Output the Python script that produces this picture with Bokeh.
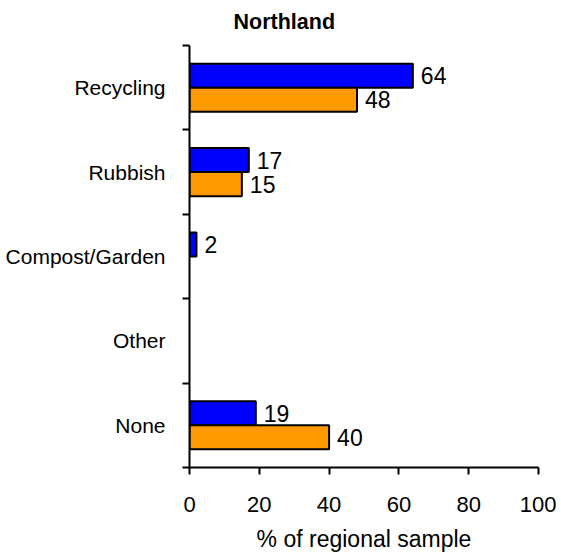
from bokeh.plotting import figure
from bokeh.models import ColumnDataSource, FixedTicker, LabelSet, Range1d
from bokeh.transform import dodge
from bokeh.embed import file_html
from bokeh.resources import INLINE
from bokeh.core.properties import value

categories = ["Recycling", "Rubbish", "Compost/Garden", "Other", "None"]
series_blue = [64, 17, 2, None, 19]
series_orange = [48, 15, None, None, 40]
x_ticks = [0, 20, 40, 60, 80, 100]

FONT = "Liberation Sans"
n = len(categories)
centers = [n - i - 0.5 for i in range(n)]
bounds = list(range(0, n + 1))


def make_source(vals):
    ys, xs, txt = [], [], []
    for c, v in zip(centers, vals):
        if v is not None:
            ys.append(c)
            xs.append(v)
            txt.append(str(v))
    return ColumnDataSource(dict(y=ys, x=xs, label=txt))


src_blue = make_source(series_blue)
src_orange = make_source(series_orange)

p = figure(
    frame_width=349, frame_height=422,
    x_range=Range1d(0, 100), y_range=Range1d(0, n),
    output_backend="svg", toolbar_location=None,
    min_border_left=189, min_border_top=45, min_border_right=18, min_border_bottom=80,
)
p.title.text = "Northland"
p.title.align = "left"
p.title.offset = 44
p.title.text_font = FONT
p.title.text_font_size = "21.5px"
p.title.text_font_style = "bold"
p.title.text_color = "black"
p.title.vertical_align = "top"
p.title.standoff = 19

bh = 0.285
off = 0.1425
p.hbar(y=dodge("y", off, range=p.y_range), right="x", left=0, height=bh, source=src_blue,
       fill_color="#0000FF", line_color="black", line_width=2)
p.hbar(y=dodge("y", -off, range=p.y_range), right="x", left=0, height=bh, source=src_orange,
       fill_color="#FF9900", line_color="black", line_width=2)

for src, o in ((src_blue, off), (src_orange, -off)):
    p.add_layout(LabelSet(x="x", y=dodge("y", o, range=p.y_range), text="label", source=src,
                          x_offset=8, text_baseline="middle", text_align="left",
                          text_font=value(FONT), text_font_size="23px", text_color="black"))

p.xgrid.visible = False
p.ygrid.visible = False
p.outline_line_color = None

xa = p.xaxis[0]
xa.ticker = FixedTicker(ticks=x_ticks, minor_ticks=[])
xa.axis_line_width = 2
xa.axis_line_color = "black"
xa.major_tick_out = 7
xa.major_tick_in = 0
xa.major_tick_line_width = 2
xa.major_tick_line_color = "black"
xa.minor_tick_line_color = None
xa.major_label_text_font = FONT
xa.major_label_text_font_size = "22px"
xa.major_label_text_color = "black"
xa.major_label_standoff = 22
xa.axis_label = "% of regional sample"
xa.axis_label_text_font = FONT
xa.axis_label_text_font_size = "23px"
xa.axis_label_text_font_style = "normal"
xa.axis_label_text_color = "black"
xa.axis_label_standoff = 11

ya = p.yaxis[0]
ya.ticker = FixedTicker(ticks=centers, minor_ticks=bounds)
ya.major_label_overrides = {c: cat for c, cat in zip(centers, categories)}
ya.axis_line_width = 2
ya.axis_line_color = "black"
ya.major_tick_out = 0
ya.major_tick_in = 0
ya.minor_tick_out = 7
ya.minor_tick_in = 0
ya.minor_tick_line_width = 2
ya.minor_tick_line_color = "black"
ya.major_label_text_font = FONT
ya.major_label_text_font_size = "21px"
ya.major_label_text_color = "black"
ya.major_label_standoff = 17

open("out.html", "w").write(file_html(p, INLINE))
